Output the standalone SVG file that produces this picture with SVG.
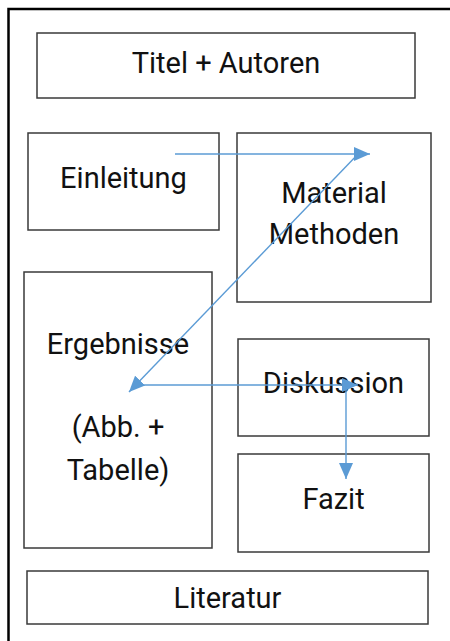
<svg xmlns="http://www.w3.org/2000/svg" width="450" height="641" viewBox="0 0 450 641">
<style>
.box{fill:#fff;stroke:#3a3a3a;stroke-width:1.5}
.lbl{font-family:Roboto,"Liberation Sans",sans-serif;font-size:29px;fill:#111;text-anchor:middle}
.con{stroke:#5b9bd5;stroke-width:1.4;fill:none}
</style>
<defs>
<marker id="ah" markerUnits="userSpaceOnUse" markerWidth="17" markerHeight="14" refX="16" refY="7" orient="auto">
<path d="M0,0 L16,7 L0,14 Z" fill="#5b9bd5"/>
</marker>
</defs>
<rect x="0" y="0" width="450" height="641" fill="#fff"/>
<rect x="8.5" y="9" width="500" height="700" fill="none" stroke="#000" stroke-width="2.5"/>
<g id="titel"><rect class="box" x="37" y="33" width="378" height="65"/><text class="lbl" x="226" y="73">Titel + Autoren</text></g>
<g id="einleitung"><rect class="box" x="28" y="133" width="191" height="97"/><text class="lbl" x="123.5" y="188">Einleitung</text></g>
<g id="material"><rect class="box" x="237" y="133" width="194" height="169"/><text class="lbl" x="334" y="203">Material</text><text class="lbl" x="334" y="244">Methoden</text></g>
<g id="ergebnisse"><rect class="box" x="24" y="272" width="188" height="276"/><text class="lbl" x="118" y="354">Ergebnisse</text><text class="lbl" x="118" y="437">(Abb. +</text><text class="lbl" x="118" y="480">Tabelle)</text></g>
<g id="diskussion"><rect class="box" x="238" y="339" width="191" height="97"/><text class="lbl" x="333.5" y="393">Diskussion</text></g>
<g id="fazit"><rect class="box" x="238" y="454" width="191" height="98"/><text class="lbl" x="333.5" y="509">Fazit</text></g>
<g id="literatur"><rect class="box" x="27" y="571" width="401" height="53"/><text class="lbl" x="227.5" y="608">Literatur</text></g>
<g id="connectors">
<line class="con" x1="175" y1="154" x2="370" y2="154" marker-end="url(#ah)"/>
<line class="con" x1="360" y1="152" x2="129" y2="392" marker-end="url(#ah)"/>
<line class="con" x1="140" y1="385" x2="358" y2="385" marker-end="url(#ah)"/>
<line class="con" x1="346" y1="386" x2="346" y2="479" marker-end="url(#ah)"/>
</g>
</svg>
